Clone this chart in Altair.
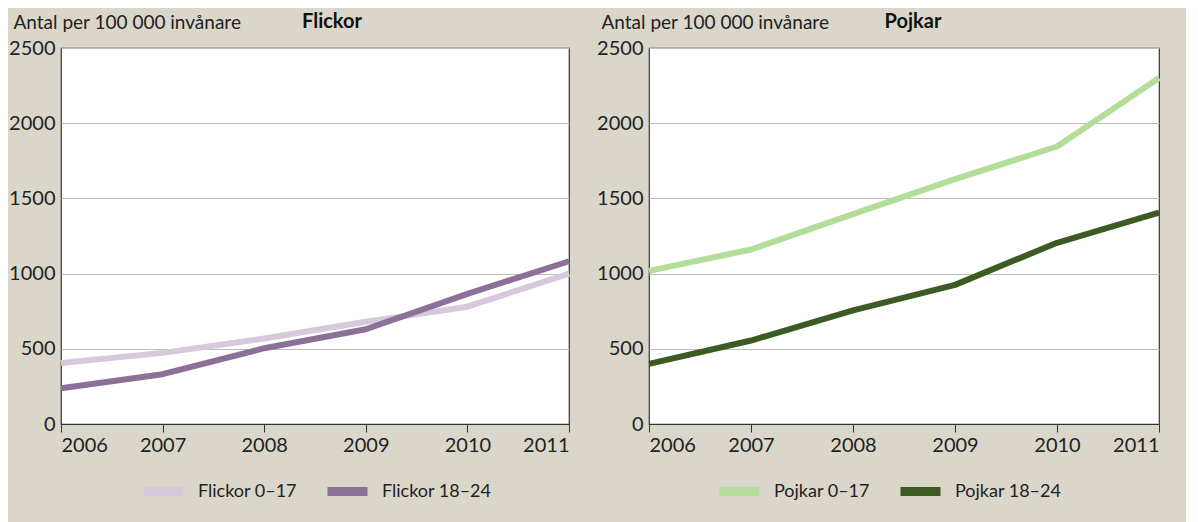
import altair as alt
import pandas as pd

years = [2006, 2007, 2008, 2009, 2010, 2011]
flickor_0_17 = [405, 473, 568, 680, 780, 1000]
flickor_18_24 = [238, 331, 504, 630, 865, 1082]
pojkar_0_17 = [1018, 1160, 1396, 1628, 1845, 2300]
pojkar_18_24 = [400, 555, 755, 925, 1205, 1405]

flickor_names = ["Flickor 0\u201317", "Flickor 18\u201324"]
pojkar_names = ["Pojkar 0\u201317", "Pojkar 18\u201324"]
flickor_colors = ["#d6c9dc", "#8b7098"]
pojkar_colors = ["#b4dd9a", "#3d5a23"]
y_ticks = [0, 500, 1000, 1500, 2000, 2500]
y_title = "Antal per 100 000 inv\u00e5nare"

FONT = "Lato"


def make_df(names, series):
    rows = []
    for name, vals in zip(names, series):
        for yr, v in zip(years, vals):
            rows.append({"year": yr, "value": v, "series": name})
    return pd.DataFrame(rows)


def panel(title, names, series, colors, width, legend_x, title_dx):
    df = make_df(names, series)
    return alt.Chart(df).mark_line(strokeWidth=6, strokeJoin="round").encode(
        x=alt.X("year:Q",
                scale=alt.Scale(domain=[2006, 2011], nice=False, zero=False),
                axis=alt.Axis(values=years, format="d", title=None, grid=False,
                              tickSize=8, tickColor="#333", domainColor="#333",
                              labelFontSize=20, labelColor="#222", labelPadding=3,
                              labelFont=FONT)),
        y=alt.Y("value:Q",
                scale=alt.Scale(domain=[0, 2500], nice=False),
                axis=alt.Axis(values=y_ticks, format="d", title=y_title, titleAngle=0,
                              titleAlign="left", titleBaseline="alphabetic",
                              titleX=-48, titleY=-20, titleFontSize=19,
                              titleFontWeight="normal", titleFont=FONT,
                              titleColor="#222",
                              ticks=False, domain=False, gridColor="#bdbdbd",
                              labelFontSize=20, labelColor="#222", labelPadding=6,
                              labelFont=FONT)),
        color=alt.Color("series:N",
                        scale=alt.Scale(domain=names, range=colors),
                        legend=alt.Legend(title=None, orient="none",
                                          legendX=legend_x, legendY=419,
                                          direction="horizontal", gridAlign="none",
                                          symbolType="stroke", symbolSize=1600,
                                          symbolStrokeWidth=9, padding=0,
                                          labelFontSize=18, labelFont=FONT,
                                          labelColor="#222",
                                          columnPadding=12, labelOffset=10)),
    ).properties(
        width=width, height=376,
        title=alt.TitleParams(title, fontSize=20, fontWeight="bold", font=FONT,
                              color="#111", anchor="middle", dx=title_dx, dy=23),
    )


left = panel("Flickor", flickor_names, [flickor_0_17, flickor_18_24], flickor_colors, 508, 78, 17)
right = panel("Pojkar", pojkar_names, [pojkar_0_17, pojkar_18_24], pojkar_colors, 510, 66, 9)

chart = alt.hconcat(left, right, spacing=23).resolve_scale(color="independent").properties(
    padding={"left": 0, "top": 3, "right": 23, "bottom": 22}
).configure(
    background="#dad7ca"
).configure_view(fill="white", stroke="#333", strokeWidth=1.2)

chart.save("out.html", embed_options={"renderer": "svg", "actions": False})
